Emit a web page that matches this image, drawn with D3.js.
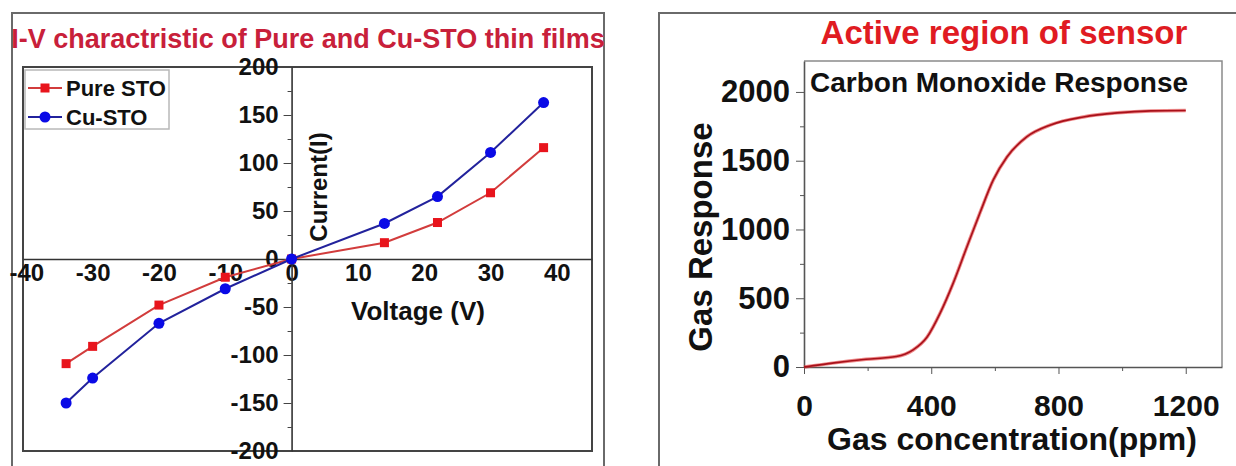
<!DOCTYPE html>
<html>
<head>
<meta charset="utf-8">
<script src="https://cdn.jsdelivr.net/npm/d3@7/dist/d3.min.js"></script>
<style>
  html, body { margin: 0; padding: 0; background: #fff; }
  svg { display: block; font-family: "Liberation Sans", Arial, sans-serif; font-weight: bold; }
</style>
</head>
<body>
<svg id="chart" width="1236" height="466"></svg>
<script>
// ---- I-V data (voltage in V, current in arbitrary units) ----
const voltage = [-34, -30, -20, -10, 0, 14, 22, 30, 38];
const pureSTO = [-109, -91, -48, -19, 0, 17, 38, 69, 116];
const cuSTO   = [-150, -124, -67, -31, 0, 37, 65, 111, 163];
const ivXTicks = [-40, -30, -20, -10, 0, 10, 20, 30, 40];
const ivYTicks = [-200, -150, -100, -50, 0, 50, 100, 150, 200];

// ---- CO sensor response ----
const concentration = [0, 95, 195, 290, 343, 387, 428, 469, 512, 553, 595, 638, 700, 775, 878, 985, 1090, 1200];
const gasResponse   = [0, 30, 56, 76, 124, 218, 392, 610, 873, 1120, 1360, 1527, 1673, 1760, 1818, 1848, 1862, 1865];
const coXTicks = [0, 400, 800, 1200];
const coYTicks = [0, 500, 1000, 1500, 2000];

const svg = d3.select("#chart");
const plain = d => String(d);   // ASCII hyphen for negatives

function styleTicks(sel, size) {
  sel.selectAll("text").attr("font-size", size)
    .attr("font-family", "Liberation Sans, Arial, sans-serif")
    .attr("font-weight", "bold").attr("fill", "#111");
}

/* ================= Left panel: I-V characteristic ================= */
const L = svg.append("g");
L.append("rect").attr("x", 12).attr("y", 13).attr("width", 592).attr("height", 520)
  .attr("fill", "none").attr("stroke", "#6a6a6a").attr("stroke-width", 2);

L.append("text").attr("x", 308).attr("y", 48).attr("text-anchor", "middle")
  .attr("font-size", 27).attr("fill", "#c8203a")
  .text("I-V charactristic of Pure and Cu-STO thin films");

const xIV = d3.scaleLinear().domain([-40.5, 45.3]).range([23, 592]);
const yIV = d3.scaleLinear().domain([-200, 200]).range([451, 67]);

L.append("rect").attr("x", 23).attr("y", 67).attr("width", 569).attr("height", 384)
  .attr("fill", "none").attr("stroke", "#444").attr("stroke-width", 2);

// horizontal axis through I = 0
const xAxisIV = L.append("g").attr("transform", `translate(0,${yIV(0)})`)
  .call(d3.axisBottom(xIV).tickValues(ivXTicks).tickSize(0).tickPadding(5).tickFormat(plain));
xAxisIV.select(".domain").attr("stroke", "#333").attr("stroke-width", 1.6);
styleTicks(xAxisIV, 24);

// vertical axis through V = 0, with minor ticks
const minorIV = d3.range(-175, 200, 50);
L.append("g").attr("transform", `translate(${xIV(0)},0)`)
  .call(d3.axisLeft(yIV).tickValues(minorIV).tickSize(4).tickFormat(""))
  .call(g => g.select(".domain").remove())
  .selectAll("line").attr("stroke", "#444");
const yAxisIV = L.append("g").attr("transform", `translate(${xIV(0)},0)`)
  .call(d3.axisLeft(yIV).tickValues(ivYTicks).tickSize(8).tickPadding(5).tickSizeOuter(0).tickFormat(plain));
yAxisIV.select(".domain").attr("stroke", "#333").attr("stroke-width", 1.6);
yAxisIV.selectAll("line").attr("stroke", "#444");
styleTicks(yAxisIV, 24);

L.append("text").attr("transform", "translate(327,187) rotate(-90)").attr("text-anchor", "middle")
  .attr("font-size", 24).attr("fill", "#111").text("Current(I)");
L.append("text").attr("x", 418).attr("y", 320).attr("text-anchor", "middle")
  .attr("font-size", 26).attr("fill", "#111").text("Voltage (V)");

const ivLine = d3.line().x(d => xIV(d[0])).y(d => yIV(d[1]));
const pureData = voltage.map((v, i) => [v, pureSTO[i]]);
const cuData = voltage.map((v, i) => [v, cuSTO[i]]);

L.append("path").datum(pureData).attr("d", ivLine).attr("fill", "none")
  .attr("stroke", "#d23c3c").attr("stroke-width", 2);
L.append("path").datum(cuData).attr("d", ivLine).attr("fill", "none")
  .attr("stroke", "#22229c").attr("stroke-width", 2);

L.selectAll(".sq").data(pureData).join("rect").attr("class", "sq")
  .attr("x", d => xIV(d[0]) - 4.5).attr("y", d => yIV(d[1]) - 4.5)
  .attr("width", 9).attr("height", 9).attr("fill", "#e8141c");
L.selectAll(".ci").data(cuData).join("circle").attr("class", "ci")
  .attr("cx", d => xIV(d[0])).attr("cy", d => yIV(d[1])).attr("r", 5.5).attr("fill", "#0a0ae6");

// legend
const lg = L.append("g");
lg.append("rect").attr("x", 25).attr("y", 70).attr("width", 144).attr("height", 59)
  .attr("fill", "#fff").attr("stroke", "#b8b8b8").attr("stroke-width", 1.5);
const legendItems = [
  { name: "Pure STO", color: "#d23c3c", mark: "#e8141c", shape: "square" },
  { name: "Cu-STO", color: "#22229c", mark: "#0a0ae6", shape: "circle" }
];
legendItems.forEach((it, i) => {
  const cy = 88 + i * 29;
  lg.append("line").attr("x1", 28).attr("x2", 62).attr("y1", cy).attr("y2", cy)
    .attr("stroke", it.color).attr("stroke-width", 2);
  if (it.shape === "square") {
    lg.append("rect").attr("x", 40.5).attr("y", cy - 4.5).attr("width", 9).attr("height", 9).attr("fill", it.mark);
  } else {
    lg.append("circle").attr("cx", 45).attr("cy", cy).attr("r", 5.5).attr("fill", it.mark);
  }
  lg.append("text").attr("x", 66).attr("y", cy + 8).attr("font-size", 22).attr("fill", "#111").text(it.name);
});

/* ================= Right panel: CO gas response ================= */
const R = svg.append("g");
R.append("rect").attr("x", 659).attr("y", 13).attr("width", 700).attr("height", 520)
  .attr("fill", "none").attr("stroke", "#6a6a6a").attr("stroke-width", 2);

R.append("text").attr("x", 1004).attr("y", 44).attr("text-anchor", "middle")
  .attr("font-size", 33).attr("fill", "#e01b22").text("Active region of sensor");

const xCO = d3.scaleLinear().domain([0, 1314]).range([804, 1222]);
const yCO = d3.scaleLinear().domain([0, 2225]).range([367, 61]);

// top and right frame edges
R.append("path").attr("d", `M${xCO.range()[0]},${yCO.range()[1]}H${xCO.range()[1]}V${yCO.range()[0]}`)
  .attr("fill", "none").attr("stroke", "#8a8a8a").attr("stroke-width", 1.5);

R.append("g").attr("transform", `translate(0,${yCO(0)})`)
  .call(d3.axisBottom(xCO).tickValues([200, 600, 1000]).tickSize(4).tickFormat(""))
  .call(g => g.select(".domain").remove())
  .selectAll("line").attr("stroke", "#555");
const xAxisCO = R.append("g").attr("transform", `translate(0,${yCO(0)})`)
  .call(d3.axisBottom(xCO).tickValues(coXTicks).tickSize(7).tickSizeOuter(0).tickPadding(21).tickFormat(plain));
xAxisCO.select(".domain").attr("stroke", "#555").attr("stroke-width", 1.6);
xAxisCO.selectAll("line").attr("stroke", "#555");
styleTicks(xAxisCO, 30);

R.append("g").attr("transform", `translate(${xCO(0)},0)`)
  .call(d3.axisLeft(yCO).tickValues([250, 750, 1250, 1750]).tickSize(4).tickFormat(""))
  .call(g => g.select(".domain").remove())
  .selectAll("line").attr("stroke", "#555");
const yAxisCO = R.append("g").attr("transform", `translate(${xCO(0)},0)`)
  .call(d3.axisLeft(yCO).tickValues(coYTicks).tickSize(8).tickSizeOuter(0).tickPadding(6).tickFormat(plain));
yAxisCO.select(".domain").attr("stroke", "#555").attr("stroke-width", 1.6);
yAxisCO.selectAll("line").attr("stroke", "#555");
styleTicks(yAxisCO, 31);

R.append("text").attr("x", 810).attr("y", 92).attr("font-size", 28).attr("fill", "#111")
  .text("Carbon Monoxide Response");
R.append("text").attr("transform", "translate(712,237) rotate(-90)").attr("text-anchor", "middle")
  .attr("font-size", 33).attr("fill", "#111").text("Gas Response");
R.append("text").attr("x", 1012).attr("y", 450).attr("text-anchor", "middle")
  .attr("font-size", 32).attr("fill", "#111").text("Gas concentration(ppm)");

const coData = concentration.map((c, i) => [c, gasResponse[i]]);
const coLine = d3.line().x(d => xCO(d[0])).y(d => yCO(d[1])).curve(d3.curveMonotoneX);
R.append("path").datum(coData).attr("d", coLine).attr("fill", "none")
  .attr("stroke", "#e23a3a").attr("stroke-width", 3.5).attr("stroke-opacity", 0.6);
R.append("path").datum(coData).attr("d", coLine).attr("fill", "none")
  .attr("stroke", "#a8101a").attr("stroke-width", 1.6);
</script>
</body>
</html>
